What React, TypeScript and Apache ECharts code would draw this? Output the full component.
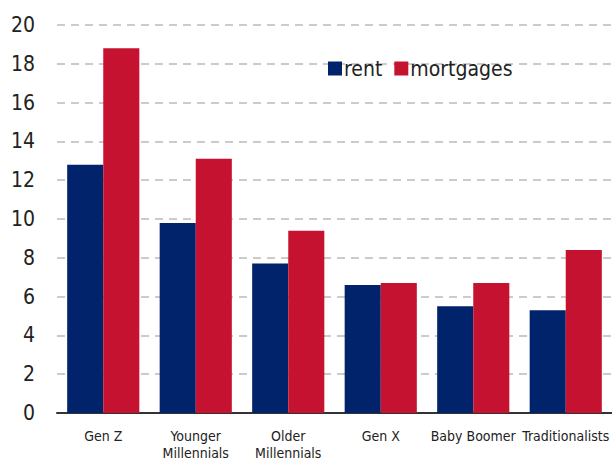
import React, { useEffect, useRef } from "react";
import * as echarts from "echarts";

const categories = ["Gen Z", "Younger\nMillennials", "Older\nMillennials", "Gen X", "Baby Boomer", "Traditionalists"];
const rent = [12.8, 9.8, 7.7, 6.6, 5.5, 5.3];
const mortgages = [18.8, 13.1, 9.4, 6.7, 6.7, 8.4];

const FONT = "'DejaVu Sans Condensed', 'Liberation Sans Narrow', sans-serif";

export default function App() {
  const ref = useRef<HTMLDivElement>(null);
  useEffect(() => {
    const chart = echarts.init(ref.current!, null, { renderer: "svg" });
    chart.setOption({
      animation: false,
      grid: { left: 57, right: 0, top: 25, bottom: 46, containLabel: false, outerBoundsMode: "none" },
      legend: {
        top: 53,
        left: 323,
        itemWidth: 14,
        itemHeight: 14,
        itemGap: 12,
        icon: "rect",
        textStyle: { fontFamily: FONT, fontSize: 21, color: "#222", padding: [0, 0, 0, -3] },
        data: ["rent", "mortgages"],
      },
      xAxis: {
        type: "category",
        data: categories,
        axisLine: { lineStyle: { color: "#333", width: 2 } },
        axisTick: { show: false },
        axisLabel: { fontFamily: FONT, fontSize: 14, color: "#222", margin: 14, lineHeight: 17, interval: 0 },
      },
      yAxis: {
        type: "value",
        min: 0,
        max: 20,
        interval: 2,
        axisLine: { show: false },
        axisTick: { show: false },
        axisLabel: { fontFamily: FONT, fontSize: 21, color: "#222", margin: 22 },
        splitLine: { lineStyle: { color: "#bbb", type: [8, 6], width: 1.5 } },
      },
      series: [
        { name: "rent", type: "bar", data: rent, itemStyle: { color: "#00236B" }, barGap: "0%", barCategoryGap: "22%" },
        { name: "mortgages", type: "bar", data: mortgages, itemStyle: { color: "#C41230" }, barGap: "0%", barCategoryGap: "22%" },
      ],
    });
    return () => chart.dispose();
  }, []);
  return <div ref={ref} style={{ width: 612, height: 459, position: "absolute", left: 0, top: 0 }} />;
}
